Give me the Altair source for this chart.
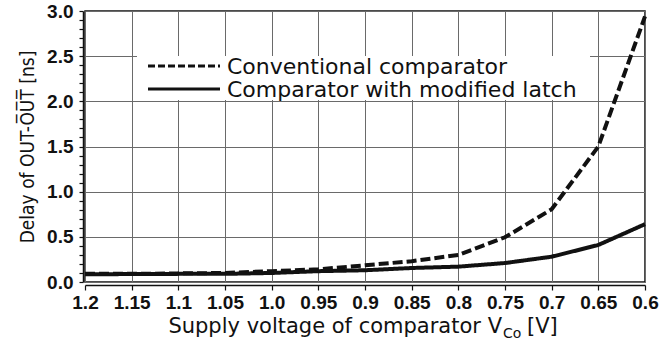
import altair as alt
import pandas as pd

# ---- data ----
supply_voltage = [1.2, 1.15, 1.1, 1.05, 1.0, 0.95, 0.9, 0.85, 0.8, 0.75, 0.7, 0.65, 0.6]
x_tick_labels = ["1.2", "1.15", "1.1", "1.05", "1.0", "0.95", "0.9", "0.85", "0.8", "0.75", "0.7", "0.65", "0.6"]
conventional = [0.09, 0.09, 0.095, 0.10, 0.12, 0.14, 0.185, 0.23, 0.30, 0.495, 0.805, 1.50, 2.94]
modified = [0.085, 0.088, 0.09, 0.09, 0.10, 0.12, 0.13, 0.155, 0.17, 0.21, 0.28, 0.41, 0.64]
series_names = ["Conventional comparator", "Comparator with modified latch"]
y_ticks = [round(i * 0.1, 1) for i in range(31)]

rows = []
for v, a, b in zip(supply_voltage, conventional, modified):
    rows.append({"v": v, "delay": a, "series": series_names[0]})
    rows.append({"v": v, "delay": b, "series": series_names[1]})
df = pd.DataFrame(rows)

W, H = 560, 271
INK = "#111111"
LBL_FONT = "Liberation Sans"
TXT_FONT = "DejaVu Sans"

# keys formatted like JavaScript's number-to-string (1.0 -> "1")
label_map = "{" + ",".join(f"'{v:g}':'{l}'" for v, l in zip(supply_voltage, x_tick_labels)) + "}"

x_scale = alt.Scale(domain=[0.6, 1.2], reverse=True, nice=False, zero=False)
y_scale = alt.Scale(domain=[0, 3.0], nice=False)

x_enc = alt.X(
    "v:Q", scale=x_scale,
    axis=alt.Axis(
        values=supply_voltage, title=None, grid=True, gridColor="#6a6a6a", gridWidth=1,
        domainColor=INK, domainWidth=1.5, offset=3, tickColor=INK, tickSize=5, tickWidth=1.2,
        labelFont=LBL_FONT, labelFontWeight="bold", labelFontSize=19, labelColor=INK,
        labelPadding=3, labelOverlap=False, labelFlush=False,
        labelExpr=f"{label_map}[toString(datum.value)] || format(datum.value, '.2~f')",
    ),
)
y_enc = alt.Y(
    "delay:Q", scale=y_scale,
    axis=alt.Axis(
        values=y_ticks, title="Delay of OUT-O\u0305U\u0305T\u0305 [ns]",
        titleFont="DejaVu Sans Condensed", titleFontWeight="normal",
        titleFontSize=19, titleColor=INK, titlePadding=9,
        grid=True, gridColor="#6a6a6a", gridWidth=1,
        gridOpacity={"condition": {"test": "abs(round(datum.value*2) - datum.value*2) < 1e-6", "value": 1}, "value": 0},
        domainColor=INK, domainWidth=1.5, offset=2, tickColor=INK, tickSize=4, tickWidth=1.2,
        labelFont=LBL_FONT, labelFontWeight="bold", labelFontSize=19, labelColor=INK,
        labelPadding=6, labelOverlap=False, labelFlush=False,
        labelExpr="abs(round(datum.value*2) - datum.value*2) < 1e-6 ? format(datum.value, '.1f') : ''",
    ),
)

lines = alt.Chart(df).mark_line(color=INK, strokeWidth=4, strokeJoin="miter").encode(
    x=x_enc, y=y_enc,
    strokeDash=alt.StrokeDash(
        "series:N", scale=alt.Scale(domain=series_names, range=[[10, 4], [1, 0]]), legend=None
    ),
    detail="series:N",
)

one = alt.Data(values=[{}])

# legend box (white background covering grid)
legend_box = alt.Chart(one).mark_rect(fill="white").encode(
    x=alt.value(52), x2=alt.value(505), y=alt.value(45), y2=alt.value(89)
)
legend_layers = [legend_box]
for i, name in enumerate(series_names):
    yy = 55 + i * 23
    dash = [7, 3] if i == 0 else [1, 0]
    legend_layers.append(
        alt.Chart(one).mark_rule(color=INK, strokeWidth=3, strokeDash=dash).encode(
            x=alt.value(63), x2=alt.value(135), y=alt.value(yy)
        )
    )
    legend_layers.append(
        alt.Chart(one).mark_text(
            align="left", baseline="middle", font=TXT_FONT, fontSize=22, color=INK
        ).encode(x=alt.value(142), y=alt.value(yy + 1), text=alt.value(name))
    )

# x axis title with subscript
xt_main = alt.Chart(one).mark_text(
    align="right", baseline="alphabetic", font=TXT_FONT, fontSize=21, color=INK
).encode(x=alt.value(417), y=alt.value(322), text=alt.value("Supply voltage of comparator V"))
xt_sub = alt.Chart(one).mark_text(
    align="left", baseline="alphabetic", font=TXT_FONT, fontSize=14, color=INK
).encode(x=alt.value(418), y=alt.value(327), text=alt.value("Co"))
xt_end = alt.Chart(one).mark_text(
    align="left", baseline="alphabetic", font=TXT_FONT, fontSize=21, color=INK
).encode(x=alt.value(442), y=alt.value(322), text=alt.value("[V]"))

chart = alt.layer(lines, *legend_layers, xt_main, xt_sub, xt_end).properties(
    width=W, height=H,
    autosize=alt.AutoSizeParams(type="none"),
    padding={"left": 85, "top": 11, "right": 17, "bottom": 63},
    background="white",
).configure_view(stroke=INK, strokeWidth=1.5)

chart.save("out.html", embed_options={"renderer": "svg", "actions": False})
